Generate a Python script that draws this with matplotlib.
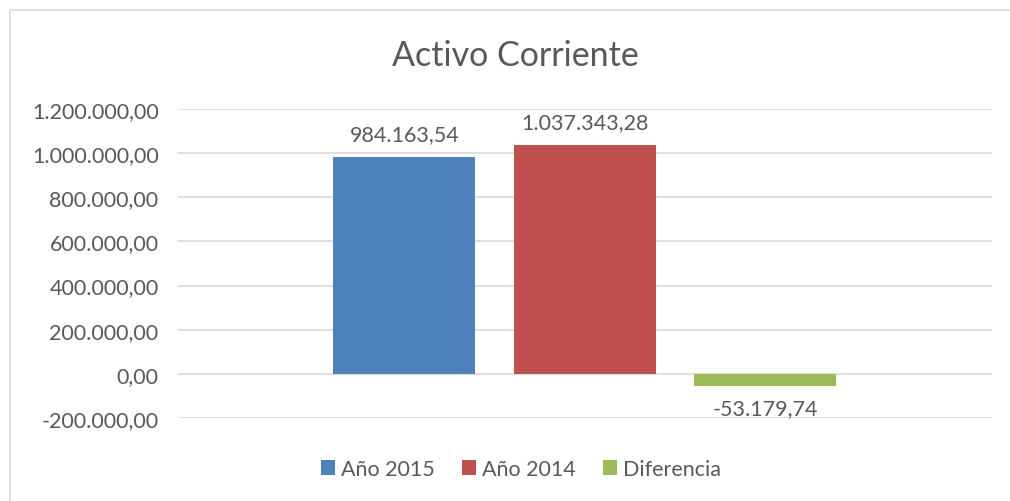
import matplotlib
matplotlib.use("Agg")
import matplotlib.pyplot as plt
from matplotlib.patches import Rectangle
from matplotlib.ticker import FuncFormatter

# datos
series = ["Año 2015", "Año 2014", "Diferencia"]
valores = [984163.54, 1037343.28, -53179.74]
colores = ["#4F81BD", "#C0504D", "#9BBB59"]
ticks = [-200000, 0, 200000, 400000, 600000, 800000, 1000000, 1200000]

plt.rcParams["font.family"] = ["Lato", "DejaVu Sans"]
TXT = "#595959"
FS = 15.5

def fmt_es(v, _=None):
    s = f"{v:,.2f}"
    return s.replace(",", "X").replace(".", ",").replace("X", ".")

fig = plt.figure(figsize=(10.10, 5.02), dpi=100)
# marco del grafico (sale por la derecha y por abajo)
fig.patches.append(Rectangle((10/1010, -0.05), 1.2, 1 - 11/502 + 0.05, transform=fig.transFigure,
                             fill=False, ec="#D9D9D9", lw=1.2))
ax = fig.add_axes([178/1010, 1 - 419/502, (992-178)/1010, (419-110)/502])

offs = [-0.222, 0.0, 0.221]
w = 0.1745
for s, v, c, o in zip(series, valores, colores, offs):
    ax.bar(o, v, width=w, color=c, label=s, zorder=3)
    if v >= 0:
        ax.text(o, v + 58000, fmt_es(v), ha="center", va="bottom", fontsize=FS, color=TXT)
    else:
        ax.text(o, v - 58000, fmt_es(v), ha="center", va="top", fontsize=FS, color=TXT)

ax.set_xlim(-0.5, 0.5)
ax.set_ylim(-200000, 1200000)
ax.set_yticks(ticks)
ax.yaxis.set_major_formatter(FuncFormatter(fmt_es))
ax.tick_params(axis="y", length=0, pad=14, labelsize=FS, labelcolor=TXT)
ax.set_xticks([])
ax.grid(axis="y", color="#D9D9D9", lw=1.2, zorder=0)
for sp in ax.spines.values():
    sp.set_visible(False)

fig.text(515/1010, 1 - 56/502, "Activo Corriente", ha="center", va="center", fontsize=24.5, color=TXT)

leg = fig.legend(loc="center", bbox_to_anchor=(521/1010, 1 - 470/502), ncol=3, frameon=False,
                 fontsize=FS, handlelength=0.65, handleheight=0.65, handletextpad=0.25,
                 columnspacing=1.3, labelcolor=TXT)

fig.savefig("out.png", dpi=100)
